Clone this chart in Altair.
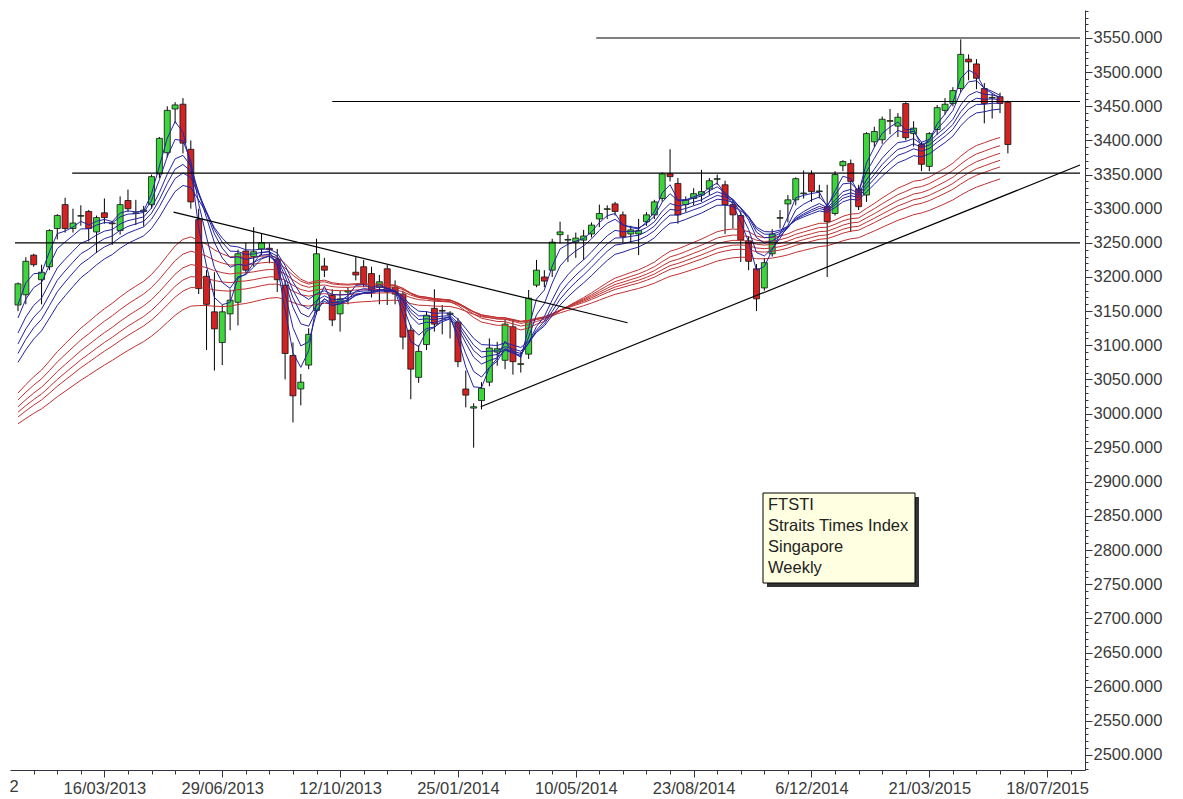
import json
import altair as alt
import pandas as pd

# ---- weekly candles (index 0 = 29/12/2012) ----
opens = [3159, 3174, 3232, 3196, 3215, 3271, 3306, 3271, 3289, 3296,
         3266, 3294, 3279, 3268, 3312, 3293, 3296, 3306, 3351, 3382,
         3446, 3453, 3387, 3284, 3201, 3149, 3104, 3146, 3163, 3238,
         3230, 3241, 3242, 3226, 3188, 3085, 3036, 3071, 3151, 3216,
         3173, 3146, 3178, 3207, 3215, 3205, 3185, 3212, 3185, 3175,
         3122, 3053, 3101, 3154, 3151, 3145, 3134, 3036, 3008, 3019,
         3046, 3090, 3078, 3127, 3072, 3087, 3188, 3200, 3210, 3262,
         3254, 3251, 3254, 3263, 3285, 3299, 3307, 3291, 3263, 3263,
         3281, 3291, 3315, 3351, 3337, 3306, 3315, 3320, 3329, 3343,
         3335, 3306, 3290, 3253, 3212, 3184, 3234, 3286, 3307, 3313,
         3322, 3351, 3325, 3303, 3293, 3363, 3366, 3329, 3320, 3398,
         3401, 3428, 3421, 3454, 3410, 3394, 3362, 3416, 3444, 3454,
         3476, 3519, 3512, 3476, 3462, 3464, 3456]
highs = [3192, 3229, 3234, 3218, 3270, 3292, 3316, 3300, 3305, 3298,
         3290, 3315, 3282, 3318, 3328, 3313, 3304, 3350, 3405, 3450,
         3456, 3462, 3400, 3300, 3210, 3207, 3159, 3182, 3240, 3250,
         3273, 3263, 3249, 3241, 3195, 3104, 3058, 3125, 3256, 3228,
         3182, 3180, 3185, 3230, 3225, 3215, 3203, 3218, 3195, 3180,
         3130, 3100, 3150, 3182, 3159, 3150, 3140, 3063, 3015, 3046,
         3110, 3105, 3138, 3138, 3090, 3181, 3225, 3210, 3256, 3281,
         3262, 3265, 3269, 3280, 3306, 3305, 3310, 3296, 3275, 3285,
         3295, 3313, 3353, 3387, 3345, 3318, 3330, 3357, 3345, 3350,
         3341, 3313, 3296, 3260, 3219, 3228, 3270, 3298, 3320, 3346,
         3356, 3356, 3335, 3335, 3355, 3371, 3372, 3335, 3412, 3420,
         3435, 3446, 3440, 3456, 3428, 3398, 3412, 3452, 3462, 3478,
         3548, 3526, 3519, 3484, 3469, 3470, 3458]
lows = [3150, 3160, 3215, 3160, 3210, 3255, 3265, 3265, 3275, 3252,
        3235, 3278, 3247, 3262, 3295, 3276, 3274, 3300, 3345, 3375,
        3425, 3381, 3300, 3175, 3093, 3063, 3071, 3122, 3129, 3205,
        3215, 3232, 3220, 3178, 3050, 2987, 3012, 3065, 3145, 3200,
        3128, 3120, 3160, 3195, 3185, 3170, 3160, 3159, 3160, 3094,
        3021, 3045, 3093, 3120, 3116, 3110, 3068, 3009, 2950, 3006,
        3040, 3070, 3065, 3057, 3060, 3080, 3185, 3185, 3200, 3249,
        3222, 3228, 3225, 3258, 3273, 3285, 3290, 3251, 3250, 3232,
        3275, 3285, 3310, 3340, 3278, 3295, 3305, 3310, 3320, 3335,
        3263, 3271, 3222, 3210, 3150, 3180, 3230, 3271, 3280, 3305,
        3315, 3310, 3315, 3200, 3290, 3355, 3266, 3298, 3310, 3390,
        3395, 3409, 3405, 3400, 3391, 3355, 3355, 3408, 3438, 3450,
        3470, 3488, 3475, 3425, 3432, 3440, 3381]
closes = [3190, 3223, 3218, 3207, 3268, 3290, 3271, 3279, 3290, 3271,
          3287, 3287, 3278, 3306, 3300, 3294, 3298, 3347, 3403, 3444,
          3452, 3396, 3310, 3183, 3160, 3124, 3149, 3166, 3234, 3210,
          3237, 3250, 3240, 3196, 3088, 3026, 3046, 3116, 3234, 3210,
          3137, 3168, 3180, 3203, 3190, 3180, 3193, 3178, 3175, 3112,
          3065, 3091, 3144, 3131, 3150, 3147, 3076, 3027, 3010, 3037,
          3096, 3095, 3131, 3076, 3073, 3169, 3210, 3194, 3251, 3266,
          3255, 3257, 3260, 3276, 3293, 3300, 3296, 3259, 3269, 3268,
          3291, 3310, 3351, 3347, 3291, 3313, 3322, 3325, 3341, 3344,
          3306, 3291, 3254, 3223, 3168, 3221, 3263, 3287, 3313, 3344,
          3323, 3325, 3326, 3281, 3350, 3369, 3340, 3303, 3410, 3413,
          3431, 3429, 3434, 3404, 3418, 3365, 3410, 3448, 3453, 3473,
          3526, 3515, 3491, 3454, 3463, 3454, 3394]

# ---- x-axis tick labels (bar index -> label) ----
tick_index = [11, 26, 41, 56, 71, 86, 101, 116, 131]
tick_labels = ["16/03/2013", "29/06/2013", "12/10/2013", "25/01/2014",
               "10/05/2014", "23/08/2014", "6/12/2014", "21/03/2015",
               "18/07/2015"]

# ---- Guppy multiple moving averages: periods and starting values read at the left edge ----
short_periods = [3, 5, 8, 10, 12, 15]
short_start = [3160, 3140, 3118, 3102, 3088, 3075]
long_periods = [30, 35, 40, 45, 50, 60]
long_start = [3030, 3020, 3010, 3002, 2995, 2985]
ma_last_bar = 125  # averages are drawn up to the bar before the last one

# ---- drawn support / resistance lines ----
level_values = [3550, 3457, 3352, 3250]
level_from = [73.6, 40.0, 6.9, -0.38]
trend_x1 = [19.8, 58.9]
trend_y1 = [3295, 3010]
trend_x2 = [77.6, 135.18]
trend_y2 = [3133, 3364]

info_lines = ["FTSTI", "Straits Times Index", "Singapore", "Weekly"]

X_MIN, X_MAX = -0.38, 135.18
Y_MIN, Y_MAX = 2478, 3591
FONT = "Arial, Liberation Sans"
TXT = "#3a3a3a"

n = len(closes)
candles = pd.DataFrame({"i": list(range(n)), "open": opens, "high": highs,
                        "low": lows, "close": closes})
candles["dir"] = ["up" if c >= o else "down" for o, c in zip(opens, closes)]


def ema(values, period, start):
    a = 2.0 / (period + 1)
    out = [start]
    for v in values[1:]:
        out.append(out[-1] + a * (v - out[-1]))
    return out


def ma_frame(periods, starts, group):
    rows = []
    for p, s in zip(periods, starts):
        for i, v in enumerate(ema(closes, p, s)):
            if i <= ma_last_bar:
                rows.append({"i": i, "value": v, "series": f"EMA{p}", "group": group})
    return pd.DataFrame(rows)


short_df = ma_frame(short_periods, short_start, "short")
long_df = ma_frame(long_periods, long_start, "long")

segs = pd.DataFrame({
    "x1": level_from + trend_x1,
    "x2": [X_MAX] * len(level_values) + trend_x2,
    "y1": level_values + trend_y1,
    "y2": level_values + trend_y2,
})

xs = alt.Scale(domain=[X_MIN, X_MAX], nice=False, zero=False)
ys = alt.Scale(domain=[Y_MIN, Y_MAX], nice=False, zero=False)

x_values = list(range(2, 136, 3))
x_label_expr = (f"indexof({json.dumps(tick_index)}, datum.value) >= 0 ? "
                f"{json.dumps(tick_labels)}[indexof({json.dumps(tick_index)}, datum.value)] : ''")
x_axis = alt.Axis(
    values=x_values, tickCount=500, labelExpr=x_label_expr, title=None, grid=False,
    tickSize={"condition": {"test": "(datum.value - 11) % 15 === 0", "value": 7}, "value": 4},
    domainColor="#333344", tickColor="#333344", labelColor=TXT,
    labelFont=FONT, labelFontSize=16.5, labelPadding=3,
    labelOverlap=False, labelFlush=False,
)
y_values = list(range(2480, 3591, 10))
y_axis = alt.Axis(
    orient="right", values=y_values, tickCount=500, title=None, grid=False,
    labelExpr="datum.value % 50 === 0 ? format(datum.value, '.3f') : ''",
    tickSize={"condition": {"test": "datum.value % 50 === 0", "value": 7}, "value": 3},
    domainColor="#333344", tickColor="#333344", labelColor=TXT,
    labelFont=FONT, labelFontSize=16.5, labelPadding=1,
    labelOverlap=False, labelFlush=False,
)

wicks = alt.Chart(candles).mark_rule(color="#000000", strokeWidth=1).encode(
    x=alt.X("i:Q", scale=xs, axis=x_axis),
    y=alt.Y("low:Q", scale=ys, axis=y_axis),
    y2="high:Q",
)
bodies = alt.Chart(candles).mark_bar(size=6, stroke="#111111", strokeWidth=0.8).encode(
    x="i:Q", y="open:Q", y2="close:Q",
    fill=alt.Fill("dir:N", scale=alt.Scale(domain=["up", "down"],
                                           range=["#3cd63c", "#d42222"]), legend=None),
)
long_lines = alt.Chart(long_df).mark_line(strokeWidth=1, color="#c03030").encode(
    x="i:Q", y="value:Q", detail="series:N")
short_lines = alt.Chart(short_df).mark_line(strokeWidth=1, color="#2323a3").encode(
    x="i:Q", y="value:Q", detail="series:N")
lines = alt.Chart(segs).mark_rule(color="#000000", strokeWidth=1.2).encode(
    x="x1:Q", x2="x2:Q", y="y1:Q", y2="y2:Q")

box_df = pd.DataFrame({"k": [0]})
shadow = alt.Chart(box_df).mark_rect(fill="#333333").encode(
    x=alt.value(757), x2=alt.value(909), y=alt.value(487), y2=alt.value(577))
box = alt.Chart(box_df).mark_rect(fill="#ffffe1", stroke="#000000", strokeWidth=1).encode(
    x=alt.value(753), x2=alt.value(905), y=alt.value(483), y2=alt.value(573))
info = alt.Chart(box_df).mark_text(
    text=info_lines, align="left", baseline="top", font=FONT, fontSize=16.5,
    lineHeight=21, color="#222222").encode(x=alt.value(758), y=alt.value(487))
cut_label = alt.Chart(box_df).mark_text(
    text="2", align="center", baseline="middle", font=FONT, fontSize=16.5,
    color=TXT).encode(x=alt.value(4), y=alt.value(777))

chart = alt.layer(
    wicks, bodies, long_lines, short_lines, lines, shadow, box, info, cut_label
).properties(
    width=1075, height=760,
    autosize=alt.AutoSizeParams(type="none"),
    padding={"left": 2, "top": 2, "right": 84, "bottom": 27},
    background="#ffffff",
).configure_view(strokeOpacity=0)

chart.save("out.html", embed_options={"renderer": "svg", "actions": False})
